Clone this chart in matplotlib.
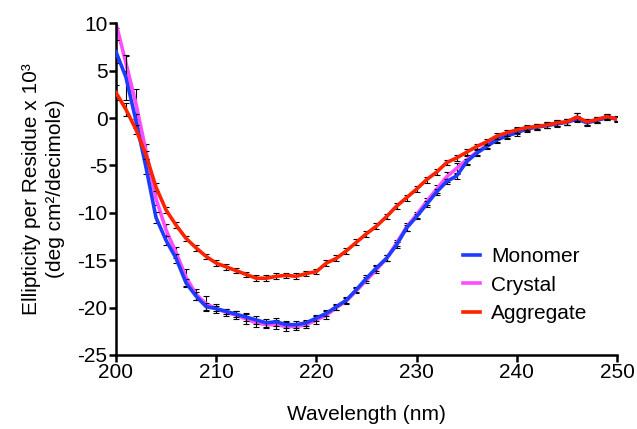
import matplotlib
matplotlib.use("Agg")
import matplotlib.pyplot as plt

plt.rcParams["font.family"] = ["Liberation Sans", "DejaVu Sans"]
plt.rcParams["axes.unicode_minus"] = False

wavelength = list(range(200, 251))

monomer = [7.0, 4.3, -0.3, -5.2, -10.5, -12.9, -14.8, -17.4, -18.8, -19.9,
           -20.1, -20.4, -20.7, -21.0, -21.3, -21.6, -21.5, -21.8, -21.8, -21.6,
           -21.1, -20.6, -19.9, -19.2, -18.1, -16.9, -15.8, -14.8, -13.4, -11.6,
           -10.4, -9.1, -7.8, -6.7, -6.1, -4.6, -3.7, -3.0, -2.3, -1.9,
           -1.55, -1.15, -0.95, -0.8, -0.6, -0.45, -0.1, -0.5, -0.25, 0.05, -0.1]
monomer_err = [1.2, 2.4, 0.7, 0.7, 0.6, 0.5, 0.5, 0.4, 0.4, 0.4,
               0.3, 0.3, 0.3, 0.4, 0.4, 0.4, 0.4, 0.4, 0.4, 0.3,
               0.3, 0.3, 0.3, 0.3, 0.3, 0.3, 0.3, 0.3, 0.3, 0.3,
               0.3, 0.3, 0.3, 0.3, 0.3, 0.3, 0.3, 0.3, 0.3, 0.3,
               0.3, 0.3, 0.3, 0.3, 0.3, 0.3, 0.3, 0.3, 0.3, 0.3, 0.3]

crystal = [10.0, 5.8, 1.5, -3.5, -8.5, -11.8, -14.2, -16.8, -18.6, -19.6,
           -20.1, -20.5, -20.8, -21.2, -21.6, -21.8, -21.8, -22.0, -22.0, -21.8,
           -21.3, -20.8, -20.0, -19.3, -18.2, -17.1, -16.0, -14.8, -13.2, -11.5,
           -10.2, -8.8, -7.5, -6.2, -5.3, -4.4, -3.6, -2.9, -2.2, -1.8,
           -1.4, -1.1, -0.95, -0.75, -0.55, -0.4, 0.1, -0.4, -0.2, 0.1, -0.1]
crystal_err = [0.5, 0.8, 1.6, 0.8, 0.7, 0.6, 0.6, 0.9, 0.6, 0.8,
               0.5, 0.4, 0.4, 0.5, 0.4, 0.4, 0.5, 0.5, 0.4, 0.4,
               0.4, 0.4, 0.3, 0.3, 0.3, 0.3, 0.4, 0.3, 0.3, 0.4,
               0.3, 0.4, 0.4, 0.5, 0.6, 0.4, 0.3, 0.3, 0.3, 0.3,
               0.3, 0.3, 0.3, 0.3, 0.3, 0.3, 0.4, 0.3, 0.3, 0.3, 0.2]

aggregate = [2.7, 0.9, -1.2, -3.9, -7.3, -9.7, -11.3, -12.7, -13.7, -14.6,
             -15.3, -15.7, -16.1, -16.5, -16.9, -16.9, -16.7, -16.6, -16.7, -16.4,
             -16.2, -15.3, -14.8, -14.0, -13.1, -12.2, -11.4, -10.4, -9.3, -8.4,
             -7.5, -6.5, -5.7, -4.7, -4.2, -3.6, -3.0, -2.5, -1.9, -1.55,
             -1.25, -1.0, -0.9, -0.73, -0.5, -0.4, 0.1, -0.4, -0.15, 0.15, -0.1]
aggregate_err = [0.8, 0.7, 0.5, 0.4, 0.4, 0.3, 0.3, 0.3, 0.3, 0.3,
                 0.3, 0.3, 0.3, 0.3, 0.3, 0.3, 0.3, 0.3, 0.3, 0.3,
                 0.3, 0.3, 0.3, 0.3, 0.3, 0.3, 0.3, 0.3, 0.3, 0.3,
                 0.3, 0.3, 0.3, 0.3, 0.3, 0.3, 0.3, 0.3, 0.3, 0.3,
                 0.3, 0.3, 0.3, 0.3, 0.3, 0.3, 0.4, 0.3, 0.3, 0.3, 0.2]

fig = plt.figure(figsize=(6.37, 4.29), dpi=100)
ax = fig.add_axes([0.182, 0.1725, 0.7866, 0.7732])

err_style = dict(ecolor="black", elinewidth=0.8, capsize=2.2, capthick=0.8)

ax.errorbar(wavelength, crystal, yerr=crystal_err, color="#FF4CFF", lw=2.6,
            label="Crystal", zorder=2, **err_style)
ax.errorbar(wavelength, monomer, yerr=monomer_err, color="#1E3CFF", lw=2.6,
            label="Monomer", zorder=3, **err_style)
ax.errorbar(wavelength, aggregate, yerr=aggregate_err, color="#FF2200", lw=2.6,
            label="Aggregate", zorder=4, **err_style)

ax.set_xlim(200, 250)
ax.set_ylim(-25, 10)
ax.set_xticks([200, 210, 220, 230, 240, 250])
ax.set_yticks([-25, -20, -15, -10, -5, 0, 5, 10])

for side in ["top", "right"]:
    ax.spines[side].set_visible(False)
for side in ["left", "bottom"]:
    ax.spines[side].set_linewidth(1.8)
ax.tick_params(direction="out", length=5, width=1.8, labelsize=15, pad=1)

ax.set_xlabel("Wavelength (nm)", fontsize=15, labelpad=16)
ax.set_ylabel("Ellipticity per Residue x 10³\n(deg cm²/decimole)", fontsize=15,
              labelpad=9, linespacing=1.35)

handles, labels = ax.get_legend_handles_labels()
order = [1, 0, 2]
leg = ax.legend([handles[i][0] for i in order], [labels[i] for i in order],
                loc="upper left", bbox_to_anchor=(0.692, 0.325), frameon=False,
                fontsize=15, handlelength=0.85, handletextpad=0.5,
                labelspacing=0.45, borderpad=0, borderaxespad=0)

fig.savefig("out.png", dpi=100)
